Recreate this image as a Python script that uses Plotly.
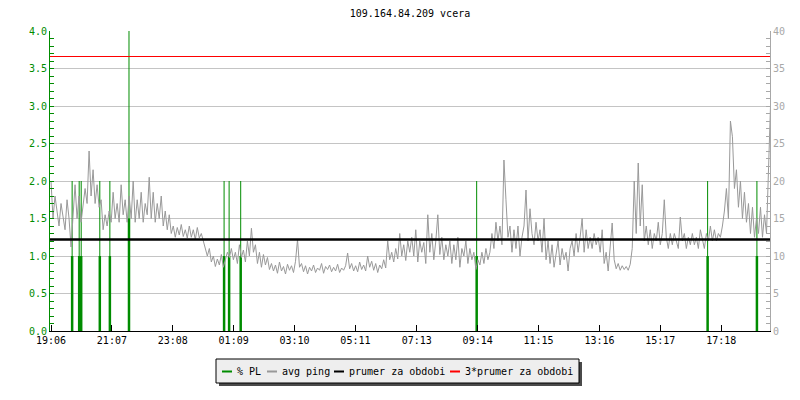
import plotly.graph_objects as go
import pandas as pd

# ---------------- data ----------------
title_text = "109.164.84.209 vcera"
x_start = "2024-01-01 19:04"
x_end = "2024-01-02 18:55"

ping_start = "2024-01-01 19:06"
ping_step = "239s"
# average ping in ms (right axis)
ping_ms = [
    20, 15, 18, 16, 14, 17, 15.5, 13.5, 17.5, 15,
    11.2, 16, 19.5, 15, 18, 14.5, 16.5, 19, 17, 24,
    18, 21.5, 17, 19.5, 16.5, 17.5, 13.5, 15.5, 14, 16,
    14.5, 18.5, 15, 17, 14.5, 19.5, 15.5, 17.5, 14.5, 18,
    15, 20, 14.5, 17.5, 15, 18.5, 14.5, 17, 15.5, 20.5,
    15, 18.5, 14.5, 17, 15, 18, 14, 16, 13.5, 15.5,
    13, 14, 12.5, 13.8, 12.8, 14.2, 12.6, 13.5, 12.4, 14,
    12.5, 13.5, 12.2, 13.8, 12.4, 13, 12, 11, 10, 11,
    9.2, 10, 8.6, 9.6, 8.8, 10.2, 8.5, 9.5, 10.5, 9.8,
    11, 9.5, 10.5, 9, 11.5, 9.8, 10.8, 9.2, 12, 10,
    13.7, 10.5, 11.5, 9, 10.5, 8.5, 10.2, 8.8, 9.8, 8.2,
    9, 8, 8.8, 7.7, 9.2, 8, 8.6, 7.6, 8.9, 8.1,
    8.7, 7.8, 9.3, 12.2, 8.5, 9, 7.9, 8.7, 7.6, 8.5,
    8, 8.8, 7.8, 8.4, 8.1, 9, 7.7, 8.6, 8.2, 8.8,
    7.9, 8.5, 8, 8.9, 7.8, 8.4, 8.1, 8.7, 10.4, 8.3,
    9, 8, 8.7, 7.9, 9.2, 8.2, 8.8, 8, 10, 8.5,
    9.3, 8.1, 9, 7.8, 8.8, 8.3, 9.5, 8.4, 12, 9.5,
    10.5, 9.2, 11, 9.6, 13, 10, 11.5, 9.4, 12, 10.5,
    12.5, 10, 13.5, 9.2, 12, 10.5, 11.8, 9, 15.5, 10.5,
    13, 9.5, 12, 15.5, 10.2, 12.5, 9.5, 11.5, 10, 12,
    9, 11.5, 9.5, 12.5, 8.5, 11, 10, 12, 9, 11,
    9.5, 10.5, 8.2, 9.5, 8.8, 10.5, 9, 11, 9.5, 10.5,
    13, 11, 14.5, 12, 14, 11.5, 22.8, 17.5, 12.5, 14,
    10.5, 13.5, 11, 14, 10, 12.5, 14, 18.8, 12, 16.3,
    13, 11.5, 14.5, 12, 13.5, 10.5, 15, 9.5, 12, 9,
    11.5, 8.5, 10.5, 12, 8.8, 11, 9.5, 10.5, 8, 11,
    12, 10, 13, 10.5, 12.5, 15, 10.5, 13.5, 11, 12.5,
    11, 13, 11.5, 12.5, 10.5, 13.5, 9, 10.5, 8, 11,
    14.4, 9.5, 8.3, 9, 8.1, 8.7, 8.2, 8.6, 8.1, 8.9,
    11, 20, 13, 22.4, 14, 19.5, 12, 14, 11.5, 13.5,
    11, 13, 12, 14.5, 11.5, 13, 17.5, 12.5, 11, 13,
    11.5, 13, 12, 11, 15.2, 12, 13, 11, 12.5, 11.5,
    13, 11.5, 12.5, 11, 13.5, 12, 11, 13, 12, 14,
    12, 13.5, 12, 13, 12.5, 14, 16, 19, 15, 28,
    25.9, 19, 21.5, 16.5, 20, 15, 18.5, 14.5, 17, 13,
    16.5, 12.5, 15, 13, 16.5, 12.5, 15.5, 13, 21, 30,
]

# packet loss events (left axis)
pl_times = [
    "2024-01-01 19:48", "2024-01-01 20:02", "2024-01-01 20:06", "2024-01-01 20:43",
    "2024-01-01 21:03", "2024-01-01 21:41", "2024-01-02 00:50", "2024-01-02 01:00",
    "2024-01-02 01:23", "2024-01-02 09:12", "2024-01-02 16:51", "2024-01-02 18:29",
]
pl_peak = [2.0, 2.0, 2.0, 2.0, 2.0, 5.0, 2.0, 2.0, 2.0, 2.0, 2.0, 2.0]
pl_base = [1.0, 1.0, 1.0, 1.0, 1.0, 1.5, 1.0, 1.0, 1.0, 1.0, 1.0, 1.0]

ping_mean_ms = 12.2
ping_3mean_ms = 36.6

tick_times = [
    "2024-01-01 19:06", "2024-01-01 21:07", "2024-01-01 23:08", "2024-01-02 01:09",
    "2024-01-02 03:10", "2024-01-02 05:11", "2024-01-02 07:13", "2024-01-02 09:14",
    "2024-01-02 11:15", "2024-01-02 13:16", "2024-01-02 15:17", "2024-01-02 17:18",
]
tick_labels = ["19:06", "21:07", "23:08", "01:09", "03:10", "05:11",
               "07:13", "09:14", "11:15", "13:16", "15:17", "17:18"]

legend_names = ["% PL", "avg ping", "prumer za obdobi", "3*prumer za obdobi"]

# ---------------- styles ----------------
GREEN = "#008c00"
GRAY = "#999999"
AXGRAY = "#a8a8a8"
FONT = "DejaVu Sans Mono"

# page offset of the plotly div (default body margin) - compensate so the
# chart sits at the same page pixels as the reference
OFF = 8
PAGE_W, PAGE_H = 800, 400
L, R, T, B = 50, 770, 31, 331   # plot area in page pixels

ping_times = pd.date_range(ping_start, periods=len(ping_ms), freq=ping_step)

fig = go.Figure()

fig.add_trace(go.Scatter(x=ping_times, y=ping_ms, mode="lines", yaxis="y2",
                         line=dict(color=GRAY, width=1), name=legend_names[1],
                         showlegend=False, hoverinfo="skip"))

thin_x, thin_y, thick_x, thick_y = [], [], [], []
for t, p, b in zip(pl_times, pl_peak, pl_base):
    thin_x += [t, t, None]
    thin_y += [0, p, None]
    thick_x += [t, t, None]
    thick_y += [0, b, None]

fig.add_trace(go.Scatter(x=thin_x, y=thin_y, mode="lines", line=dict(color=GREEN, width=1),
                         showlegend=False, hoverinfo="skip", name=legend_names[0]))
fig.add_trace(go.Scatter(x=thick_x, y=thick_y, mode="lines", line=dict(color=GREEN, width=2.5),
                         showlegend=False, hoverinfo="skip", name=legend_names[0]))

fig.add_trace(go.Scatter(x=[x_start, x_end], y=[ping_mean_ms, ping_mean_ms], mode="lines",
                         yaxis="y2", line=dict(color="black", width=2.5),
                         showlegend=False, hoverinfo="skip", name=legend_names[2]))
fig.add_trace(go.Scatter(x=[x_start, x_end], y=[ping_3mean_ms, ping_3mean_ms], mode="lines",
                         yaxis="y2", line=dict(color="red", width=1),
                         showlegend=False, hoverinfo="skip", name=legend_names[3]))


def px_x(p):
    return (p - L) / (R - L)


def px_y(p):
    return (B - p) / (B - T)


shapes = [
    dict(type="rect", xref="paper", yref="paper", x0=px_x(219), x1=px_x(582),
         y0=px_y(362), y1=px_y(386), fillcolor="#4a4a4a", line=dict(width=0)),
    dict(type="rect", xref="paper", yref="paper", x0=px_x(216), x1=px_x(579),
         y0=px_y(359), y1=px_y(383), fillcolor="#eeeeee", line=dict(color="black", width=1)),
]
sym_x = [222, 267, 334, 450]
sym_col = [GREEN, GRAY, "black", "red"]
txt_x = [235, 279.5, 346.5, 463.5]
annotations = []
for sx, c, tx, name in zip(sym_x, sym_col, txt_x, legend_names):
    shapes.append(dict(type="line", xref="paper", yref="paper", x0=px_x(sx), x1=px_x(sx + 10),
                       y0=px_y(371.5), y1=px_y(371.5), line=dict(color=c, width=2)))
    annotations.append(dict(text=name, xref="paper", yref="paper", x=px_x(tx), y=px_y(371),
                            xanchor="left", yanchor="middle", showarrow=False,
                            font=dict(family=FONT, size=10, color="black")))

fig_w, fig_h = PAGE_W - OFF, PAGE_H - OFF
fig.update_layout(
    width=fig_w, height=fig_h,
    margin=dict(l=L - OFF, r=PAGE_W - R, t=T - OFF, b=PAGE_H - B, pad=0),
    paper_bgcolor="white", plot_bgcolor="white",
    showlegend=False,
    title=dict(text=title_text, x=0.5, xref="paper", xanchor="center",
               y=1 - (13 - OFF) / fig_h, yref="container", yanchor="middle",
               font=dict(family=FONT, size=10, color="black")),
    xaxis=dict(type="date", range=[x_start, x_end], tickmode="array",
               tickvals=tick_times, ticktext=tick_labels, ticks="inside", ticklen=6,
               tickcolor="black", showline=True, linecolor="black", linewidth=1,
               showgrid=False, zeroline=False,
               tickfont=dict(family=FONT, size=10, color="black")),
    yaxis=dict(range=[0, 4], tick0=0, dtick=0.5, tickformat=".1f", ticks="inside",
               ticklen=4, tickcolor=GREEN, showline=True, linecolor=GREEN, linewidth=1,
               gridcolor="#c4c4c4", gridwidth=1, zeroline=False,
               tickfont=dict(family=FONT, size=10, color=GREEN),
               minor=dict(dtick=0.1, ticks="inside", ticklen=4, tickcolor=GREEN, showgrid=False)),
    yaxis2=dict(range=[0, 40], tick0=0, dtick=5, overlaying="y", side="right",
                ticks="inside", ticklen=4, tickcolor=AXGRAY, showline=True,
                linecolor=AXGRAY, linewidth=1, showgrid=False, zeroline=False,
                tickfont=dict(family=FONT, size=10, color=AXGRAY),
                minor=dict(dtick=1, ticks="inside", ticklen=4, tickcolor=AXGRAY, showgrid=False)),
    shapes=shapes,
    annotations=annotations,
)

fig.write_html("out.html")
